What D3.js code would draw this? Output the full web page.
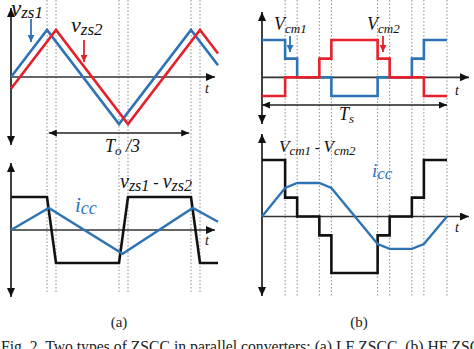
<!DOCTYPE html>
<html><head><meta charset="utf-8">
<script src="https://cdn.jsdelivr.net/npm/d3@7"></script>
<style>body{margin:0;background:#fff}svg{display:block}
text{font-family:"Liberation Serif","DejaVu Serif","Times New Roman",serif}</style>
</head><body>
<script>
// ---------- data ----------
const aGuides = [1, 1.25, 3, 3.25, 5, 5.25];
const vzs1 = [[0,0],[1,1],[3,-1],[5,1],[5.75,0.25]];
const vzs2 = [[0,-0.25],[1.25,1],[3.25,-1],[5.25,1],[5.75,0.5]];
const vzsDiff = [[0,1],[1,1],[1.25,-1],[3,-1],[3.25,1],[5,1],[5.25,-1],[5.75,-1]];
const iccA = [[0,0],[1.05,0.67],[3.1,-0.72],[5.05,0.67],[5.75,0.25]];
const bGuides = [0.125, 0.19, 0.31, 0.375, 0.625, 0.69, 0.81, 0.875, 1];
const bStepT = [0, 0.125, 0.19, 0.31, 0.375, 0.625, 0.69, 0.81, 0.875, 1];
const vcm1 = [1, 0.5, 0, 0, -0.5, 0, 0, 0.5, 1, 1];
const vcm2 = [-0.5, 0, 0, 0.5, 1, 0.5, 0, 0, -0.5, -0.5];
const vcmDiff = [1.5, 0.5, 0, -0.5, -1.5, -0.5, 0, 0.5, 1.5, 1.5];
const iccB = [[0,0],[0.125,0.76],[0.19,0.89],[0.31,0.89],[0.375,0.76],[0.625,-0.73],[0.69,-0.86],[0.81,-0.86],[0.875,-0.73],[1,0]];
const toSpan = [1.05, 4.95];
const tsSpan = [0, 1];

const BLUE = "#2e74b5", RED = "#e5222b", BLACK = "#111";
const W = 474, H = 349;
const FONT = "'Liberation Serif','DejaVu Serif','Times New Roman',serif";
const svg = d3.select("body").append("svg").attr("width", W).attr("height", H);

const defs = svg.append("defs");
function marker(id, color, len, wid) {
  defs.append("marker").attr("id", id).attr("viewBox", `0 0 ${len} ${wid}`)
    .attr("refX", len).attr("refY", wid/2).attr("markerWidth", len).attr("markerHeight", wid)
    .attr("markerUnits", "userSpaceOnUse").attr("orient", "auto-start-reverse")
    .append("path").attr("d", `M0,0L${len},${wid/2}L0,${wid}Z`).attr("fill", color);
}
marker("ak", BLACK, 9, 8);
marker("akS", BLACK, 8, 7);
marker("ab", BLUE, 7, 7);
marker("ar", RED, 7, 7);

// ---------- scales ----------
const xA = d3.scaleLinear().domain([0, 5]).range([11, 191]);
const yA1 = d3.scaleLinear().domain([-1, 1]).range([124, 30]);
const yA2 = d3.scaleLinear().domain([-1, 1]).range([263, 197]);
const xB = d3.scaleLinear().domain([0, 1]).range([262, 447]);
const yB1 = d3.scaleLinear().domain([-0.5, 1]).range([96, 40]);
const yB2 = d3.scaleLinear().domain([-1.5, 1.5]).range([273, 160]);

// guides
function guides(vals, x, y0, y1) {
  svg.append("g").selectAll("line").data(vals).join("line")
    .attr("x1", d => x(d)).attr("x2", d => x(d)).attr("y1", y0).attr("y2", y1)
    .attr("stroke", "#8c8c8c").attr("stroke-width", 1).attr("stroke-dasharray", "1.5,2");
}
guides(aGuides, xA, 0, 292);
guides(bGuides, xB, 0, 296);

function arrowLine(x1, y1, x2, y2, m, color, w, both) {
  const l = svg.append("line").attr("x1", x1).attr("y1", y1).attr("x2", x2).attr("y2", y2)
    .attr("stroke", color).attr("stroke-width", w).attr("marker-end", `url(#${m})`);
  if (both) l.attr("marker-start", `url(#${m})`);
}
// axes (a)
arrowLine(xA(0), 8, xA(0), 145, "ak", BLACK, 1.6, true);
arrowLine(xA(0), yA1(0), 215, yA1(0), "ak", "#333", 1.6);
arrowLine(xA(0), 163, xA(0), 297, "ak", BLACK, 1.6, true);
arrowLine(xA(0), yA2(0), 215, yA2(0), "ak", "#333", 1.6);
// axes (b)
arrowLine(xB(0), 12, xB(0), 124, "ak", BLACK, 1.6, true);
arrowLine(xB(0), yB1(0), 469, yB1(0), "ak", "#333", 1.6);
arrowLine(xB(0), 134, xB(0), 296, "ak", BLACK, 1.6, true);
arrowLine(xB(0), yB2(0), 469, yB2(0), "ak", "#333", 1.6);

// dimension arrows
arrowLine(xA(toSpan[0]), 133, xA(toSpan[1]), 133, "akS", "#222", 1.4, true);
arrowLine(xB(tsSpan[0]), 105, xB(tsSpan[1]), 105, "akS", "#222", 1.4, true);

// series
const lineA1 = d3.line().x(d => xA(d[0])).y(d => yA1(d[1]));
const lineA2 = d3.line().x(d => xA(d[0])).y(d => yA2(d[1]));
function path(d, color, w) {
  svg.append("path").attr("d", d).attr("fill", "none").attr("stroke", color)
    .attr("stroke-width", w).attr("stroke-linejoin", "miter");
}
path(lineA1(vzs1), BLUE, 2.6);
path(lineA1(vzs2), RED, 2.6);
path(lineA2(vzsDiff), BLACK, 2.6);
path(lineA2(iccA), BLUE, 2.4);

const stepB1 = d3.line().x(d => xB(d[0])).y(d => yB1(d[1])).curve(d3.curveStepAfter);
const stepB2 = d3.line().x(d => xB(d[0])).y(d => yB2(d[1])).curve(d3.curveStepAfter);
const lineB2 = d3.line().x(d => xB(d[0])).y(d => yB2(d[1]));
path(stepB1(bStepT.map((t, i) => [t, vcm1[i]])), BLUE, 2.6);
path(stepB1(bStepT.map((t, i) => [t, vcm2[i]])), RED, 2.6);
path(stepB2(bStepT.map((t, i) => [t, vcmDiff[i]])), BLACK, 2.6);
path(lineB2(iccB), BLUE, 2.4);

// labels
function label(x, y, parts, color) {
  const t = svg.append("text").attr("x", x).attr("y", y).attr("fill", color || "#111")
    .attr("font-family", FONT).attr("font-style", "italic");
  parts.forEach(p => {
    const s = t.append("tspan").text(p.t).attr("font-size", p.s);
    if (p.dy) s.attr("dy", p.dy);
    if (p.up) s.attr("font-style", "normal");
  });
  return t;
}
label(11, 16, [{t:"v", s:23}, {t:"zs1", s:17, dy:2}]);
label(71, 32, [{t:"v", s:22}, {t:"zs2", s:17, dy:3}]);
arrowLine(31, 19, 31, 42, "ab", BLUE, 1.8);
arrowLine(84, 40, 84, 62, "ar", RED, 1.8);
label(105, 152, [{t:"T", s:18}, {t:"o", s:13, dy:3}, {t:" /3", s:18, dy:-3}]);
label(205, 93, [{t:"t", s:14}]);
label(205, 245, [{t:"t", s:14}]);
label(120, 188, [{t:"v", s:20}, {t:"zs1", s:16, dy:3}, {t:" - ", s:16, dy:-3, up:true}, {t:"v", s:20}, {t:"zs2", s:16, dy:3}]);
label(75, 212, [{t:"i", s:21}, {t:"cc", s:18, dy:2}], BLUE);

label(274, 30, [{t:"V", s:18}, {t:"cm1", s:13, dy:3}]);
label(367, 30, [{t:"V", s:18}, {t:"cm2", s:13, dy:3}]);
arrowLine(290, 36, 290, 52, "ab", BLUE, 1.8);
arrowLine(383, 36, 383, 52, "ar", RED, 1.8);
label(339, 120, [{t:"T", s:18}, {t:"s", s:13, dy:3}]);
label(455, 95, [{t:"t", s:14}]);
label(455, 232, [{t:"t", s:14}]);
label(279, 152, [{t:"V", s:17}, {t:"cm1", s:13, dy:3}, {t:"  -  ", s:15, dy:-3, up:true}, {t:"V", s:17}, {t:"cm2", s:13, dy:3}]);
label(372, 177, [{t:"i", s:19}, {t:"cc", s:17, dy:2}], BLUE);

// captions
function plain(x, y, s, txt, anchor) {
  svg.append("text").attr("x", x).attr("y", y).attr("text-anchor", anchor || "start")
    .attr("font-family", FONT).attr("font-size", s).attr("fill", "#222").text(txt);
}
plain(119, 327, 15, "(a)", "middle");
plain(359, 327, 15, "(b)", "middle");
plain(1, 352, 15.7, "Fig. 2. Two types of ZSCC in parallel converters: (a) LF ZSCC, (b) HF ZSCC.");
</script>
</body></html>
